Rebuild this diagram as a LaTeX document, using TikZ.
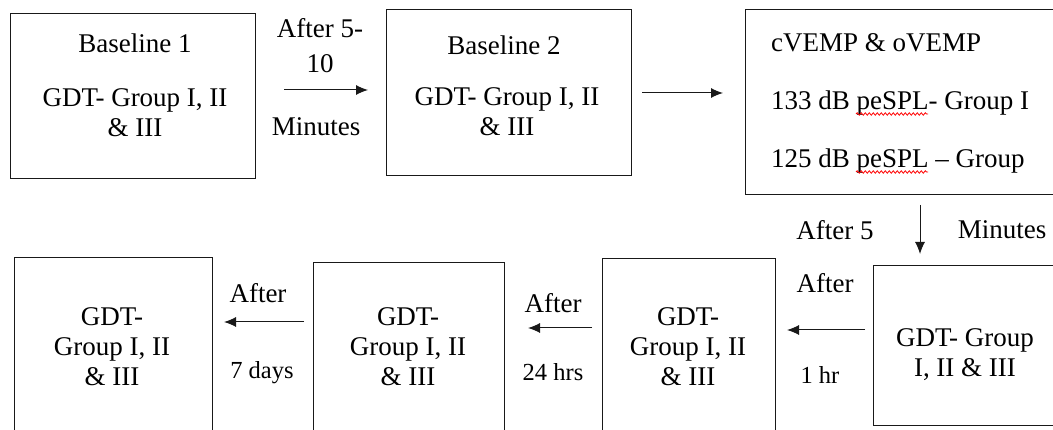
\documentclass[tikz,border=0pt]{standalone}
\usepackage{fontspec}
\setmainfont{Liberation Serif}
\usetikzlibrary{arrows.meta,decorations.pathmorphing}
\begin{document}
\begin{tikzpicture}[x=1pt,y=-1pt,
  box/.style={draw=black!90, line width=1pt, inner sep=0pt, anchor=north west},
  txt/.style={font=\fontsize{27}{30}\selectfont, align=center, inner sep=0pt},
  sml/.style={font=\fontsize{24.5}{28}\selectfont, align=center, inner sep=0pt},
  conn/.style={draw=black!90, line width=1pt, -{Latex[length=12pt,width=10pt]}},
  spell/.style={red, line width=0.8pt, decorate, decoration={snake, amplitude=1.2pt, segment length=4pt}}]
\useasboundingbox (0,0) rectangle (1053,430);
\clip (0,0) rectangle (1053,430);
% boxes
\node[box, minimum width=245, minimum height=165] (b1) at (10,13) {};
\node[box, minimum width=245, minimum height=166] (b2) at (386,9) {};
\node[box, minimum width=340, minimum height=185] (b3) at (745,9) {};
\node[box, minimum width=184, minimum height=160] (b4) at (873,265) {};
\node[box, minimum width=173, minimum height=200] (b5) at (602,258) {};
\node[box, minimum width=191, minimum height=200] (b6) at (313,262) {};
\node[box, minimum width=198, minimum height=200] (b7) at (14,257) {};
% box texts
\node[txt] (t1a) at (135,43) {Baseline 1};
\node[txt] (t1b) at (135,113) {GDT- Group I, II\\\& III};
\node[txt] (t2a) at (504,45) {Baseline 2};
\node[txt] (t2b) at (507,112) {GDT- Group I, II\\\& III};
\node[txt, anchor=base west] (t3a) at (771,52) {cVEMP \& oVEMP};
\node[txt, anchor=base west] (t3b) at (771,110) {133 dB peSPL- Group I};
\node[txt, anchor=base west] (t3c) at (771,168) {125 dB peSPL -- Group};
\draw[spell] (856,114) -- (928,114);
\draw[spell] (856,172) -- (928,172);
\node[txt] (t4) at (965,355) {GDT- Group\\I, II \& III};
\node[txt] (t5) at (688,347) {GDT-\\Group I, II\\\& III};
\node[txt] (t6) at (408,347) {GDT-\\Group I, II\\\& III};
\node[txt] (t7) at (112,347) {GDT-\\Group I, II\\\& III};
% connectors
\coordinate (a1s) at (284,90); \coordinate (a1e) at (368,90);
\coordinate (a2s) at (642,93); \coordinate (a2e) at (723,93);
\coordinate (a3s) at (920,205); \coordinate (a3e) at (920,254);
\coordinate (a4s) at (865,330); \coordinate (a4e) at (787,330);
\coordinate (a5s) at (592,328); \coordinate (a5e) at (528,328);
\coordinate (a6s) at (304,322); \coordinate (a6e) at (224,322);
\draw[conn] (a1s) -- (a1e);
\draw[conn] (a2s) -- (a2e);
\draw[conn] (a3s) -- (a3e);
\draw[conn] (a4s) -- (a4e);
\draw[conn] (a5s) -- (a5e);
\draw[conn] (a6s) -- (a6e);
% connector labels
\node[txt] (l1a) at (320,45.5) {After 5-\\[5pt]10};
\node[txt] (l1b) at (316,127) {Minutes};
\node[txt] (l3a) at (835,230) {After 5};
\node[txt] (l3b) at (1002,230) {Minutes};
\node[txt] (l4a) at (825,283) {After};
\node[sml] (l4b) at (820,375) {1 hr};
\node[txt] (l5a) at (553,303) {After};
\node[sml] (l5b) at (553,372) {24 hrs};
\node[txt] (l6a) at (258,293) {After};
\node[sml] (l6b) at (262,373) {7 days};
\end{tikzpicture}
\end{document}
